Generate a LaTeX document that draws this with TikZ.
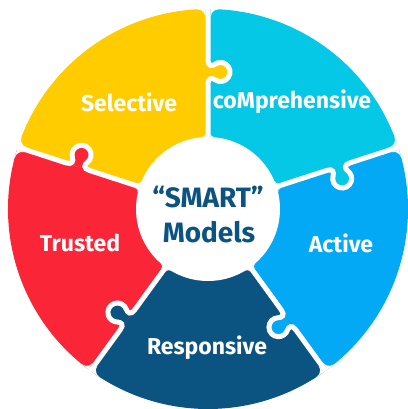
\documentclass[tikz,border=0pt]{standalone}
\usepackage{fontspec}
\setmainfont{Fira Sans}
\definecolor{selcol}{HTML}{FFCC00}
\definecolor{comcol}{HTML}{04C8E6}
\definecolor{actcol}{HTML}{03A9F4}
\definecolor{rescol}{HTML}{0B5380}
\definecolor{trucol}{HTML}{FB2538}
\tikzset{
  gapline/.style={draw=white, line width=5pt},
  petal/.style={text=white, font=\bfseries\fontsize{23}{23}\selectfont, inner sep=0pt},
  hub/.style={text=rescol, font=\bfseries\fontsize{28}{30}\selectfont, inner sep=0pt}
}
% radii, gap width, knob distance, corner radii
\def\Ro{200}\def\Ri{72}\def\gap{5}\def\kd{137}\def\rco{8}\def\rci{4}

% one seam between two pieces: knob of the owner colour pushed into the
% neighbour, then the white gap traced along the seam and around the knob
\newcommand\seam[2]{%
  \begin{scope}[rotate=#1, yscale=-1]
    \fill[#2] (\kd-12,0) .. controls (\kd-5.5,0) and (\kd-5.77,4.18) .. (\kd-7.78,7.05)
      arc[start angle=215, end angle=-35, radius=9.5]
      .. controls (\kd+5.77,4.18) and (\kd+5.5,0) .. (\kd+12,0) -- cycle;
    \draw[gapline] (\Ri-4,0) -- (\kd-12,0)
      .. controls (\kd-5.5,0) and (\kd-5.77,4.18) .. (\kd-7.78,7.05)
      arc[start angle=215, end angle=-35, radius=9.5]
      .. controls (\kd+5.77,4.18) and (\kd+5.5,0) .. (\kd+12,0) -- (\Ro+4,0);
  \end{scope}}

% rounded corners on both sides of a seam, at the rim and at the hub
\newcommand\corners[1]{%
  \foreach \s in {1,-1}{
    \begin{scope}[rotate=#1, yscale=\s]
      \fill[white] (\oxc,\gap/2) -- (\ocx,\gap/2) -- (\ophi:\Ro)
        arc[start angle=\ophi, end angle=-90, radius=\rco] -- cycle;
      \fill[white] (\icx,\gap/2) -- (\ixc,\gap/2)
        arc[start angle=270, end angle=\iphi, radius=\rci] -- cycle;
    \end{scope}}}

\begin{document}
\begin{tikzpicture}[x=1pt,y=1pt]
\useasboundingbox (0,0) rectangle (407,409);
\pgfmathsetmacro\oyc{\gap/2+\rco}
\pgfmathsetmacro\oxc{(\Ro-\rco)*sqrt(1-(\oyc/(\Ro-\rco))^2)}
\pgfmathsetmacro\ophi{atan2(\oyc,\oxc)}
\pgfmathsetmacro\ocx{\Ro*sqrt(1-(\gap/2/\Ro)^2)}
\pgfmathsetmacro\iyc{\gap/2+\rci}
\pgfmathsetmacro\ixc{(\Ri+\rci)*sqrt(1-(\iyc/(\Ri+\rci))^2)}
\pgfmathsetmacro\iphi{atan2(\iyc,\ixc)+180}
\pgfmathsetmacro\icx{\Ri*sqrt(1-(\gap/2/\Ri)^2)}
\begin{scope}[shift={(208,200)}]
  % five sectors
  \fill[selcol] (0,0) -- (90:\Ro) arc[start angle=90, end angle=162, radius=\Ro] -- cycle;
  \fill[comcol] (0,0) -- (18:\Ro) arc[start angle=18, end angle=90, radius=\Ro] -- cycle;
  \fill[actcol] (0,0) -- (-54:\Ro) arc[start angle=-54, end angle=18, radius=\Ro] -- cycle;
  \fill[rescol] (0,0) -- (-126:\Ro) arc[start angle=-126, end angle=-54, radius=\Ro] -- cycle;
  \fill[trucol] (0,0) -- (162:\Ro) arc[start angle=162, end angle=234, radius=\Ro] -- cycle;
  % seams with their knobs
  \seam{90}{selcol}
  \seam{162}{trucol}
  \seam{18}{comcol}
  \seam{-54}{actcol}
  \seam{-126}{rescol}
  \corners{90}\corners{162}\corners{18}\corners{-54}\corners{-126}
  % hub
  \fill[white] (0,0) circle[radius=\Ri];
  % labels
  \node[petal] (sel) at (-79,107) {Selective};
  \node[petal] (com) at (84,107) {coMprehensive};
  \node[petal] (tru) at (-128,-34) {Trusted};
  \node[petal] (act) at (133,-34) {Active};
  \node[petal] (res) at (-1,-139) {Responsive};
  \node[hub] (smart) at (0,12) {“SMART”};
  \node[hub] (models) at (1,-23) {Models};
\end{scope}
\end{tikzpicture}
\end{document}
